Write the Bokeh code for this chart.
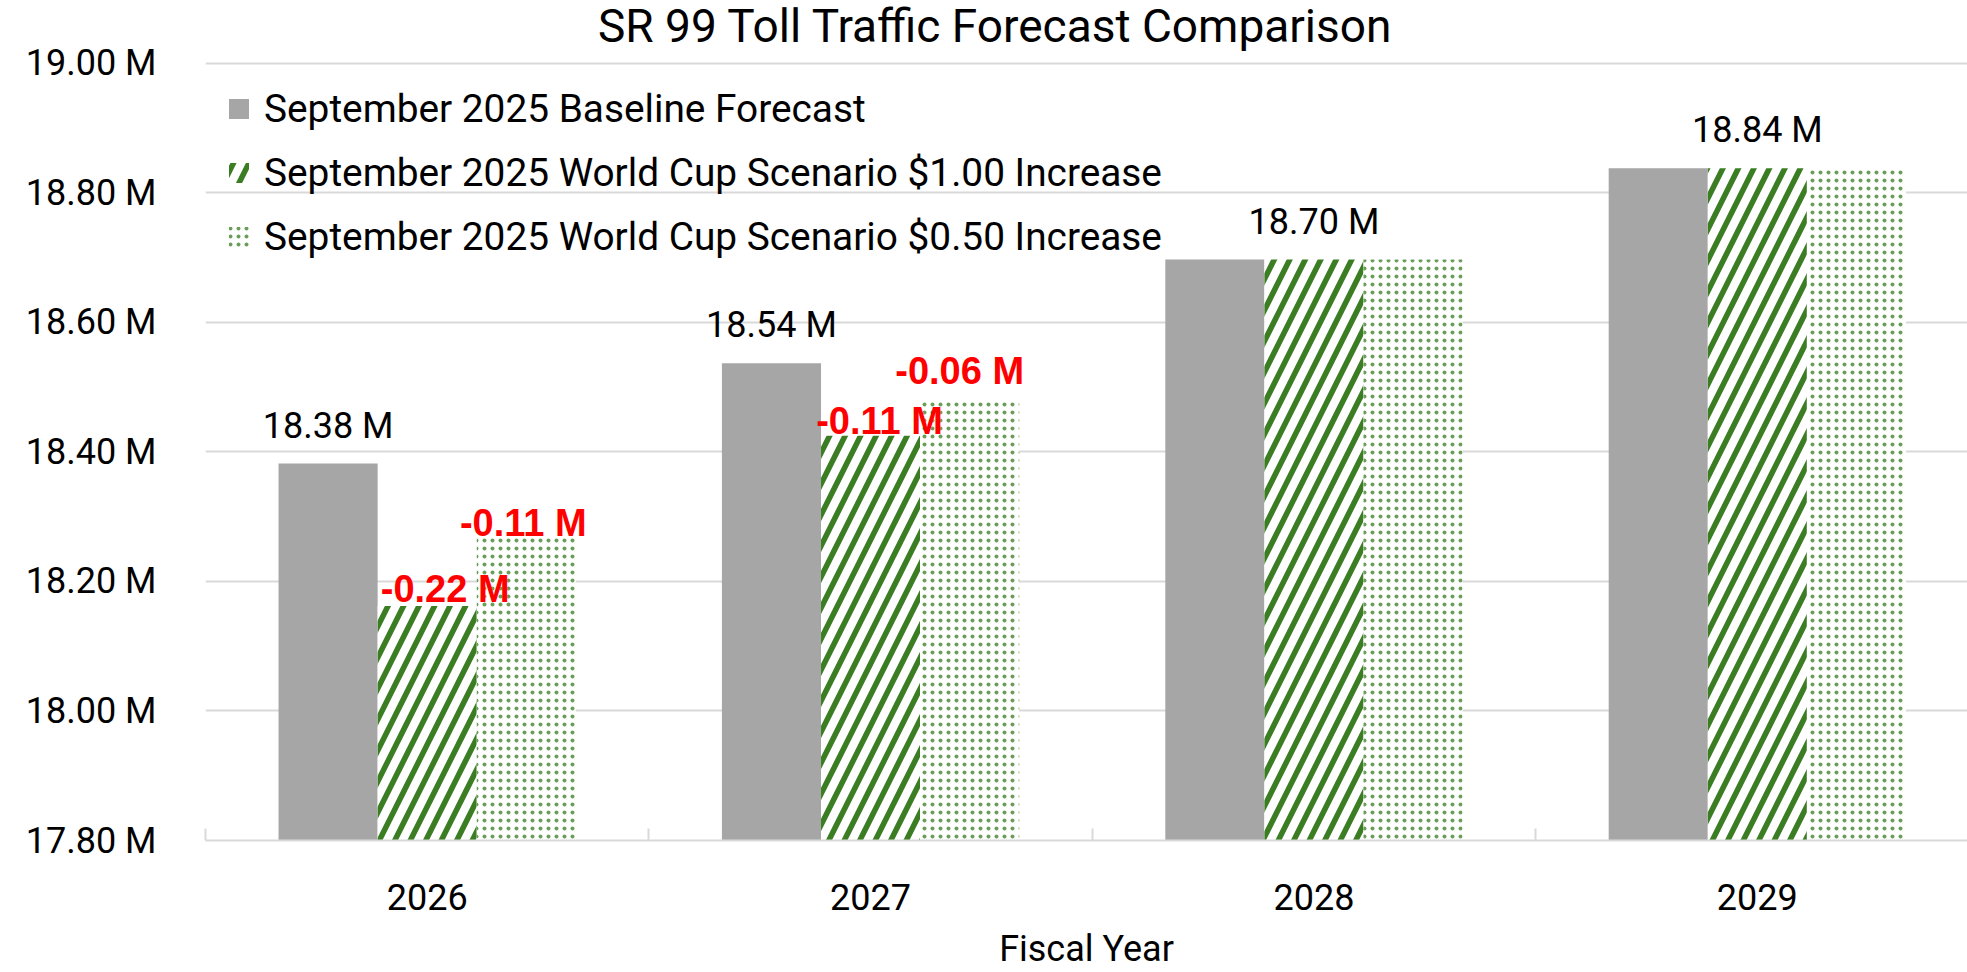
from bokeh.plotting import figure
from bokeh.models import (Range1d, FixedTicker, PrintfTickFormatter, Label, Legend,
                          LegendItem, ColumnDataSource)
from bokeh.core.properties import value
from bokeh.embed import file_html
from bokeh.resources import INLINE

# ---------------- data ----------------
years = ["2026", "2027", "2028", "2029"]
baseline = [18.382, 18.537, 18.697, 18.838]
worldcup_100 = [18.162, 18.425, 18.697, 18.838]
worldcup_050 = [18.268, 18.480, 18.697, 18.838]
series_names = [
    "September 2025 Baseline Forecast",
    "September 2025 World Cup Scenario $1.00 Increase",
    "September 2025 World Cup Scenario $0.50 Increase",
]
y_ticks = [17.8, 18.0, 18.2, 18.4, 18.6, 18.8, 19.0]
chart_title = "SR 99 Toll Traffic Forecast Comparison"
x_title = "Fiscal Year"

# ---------------- style ----------------
GRAY = "#A6A6A6"
GREEN = "#3A7D22"
GRID = "#D9D9D9"
FONT = "Roboto"
FS = "36px"
BAR_W = 0.2235
OFFSETS = [-BAR_W, 0.0, BAR_W]
TXT_FIX = -12  # baseline correction (px)
DIFF_NUDGE = {(0, 1): (18, -5), (0, 2): (-3, -2), (1, 1): (9, -3), (1, 2): (-10, -17)}

W, H = 1967, 972
p = figure(width=W, height=H, output_backend="svg", toolbar_location=None,
           x_range=Range1d(0, 3.974), y_range=Range1d(17.8, 19.097),
           min_border_left=205, min_border_right=0, min_border_top=0,
           min_border_bottom=132)
p.outline_line_color = None

centers = [i + 0.5 for i in range(len(years))]

renderers = []
series = [baseline, worldcup_100, worldcup_050]
for k, vals in enumerate(series):
    src = ColumnDataSource(dict(x=[c + OFFSETS[k] for c in centers], top=vals))
    if k == 0:
        r = p.vbar(x="x", top="top", bottom=17.8, width=BAR_W, source=src,
                   fill_color=GRAY, line_color=None)
    elif k == 1:
        r = p.vbar(x="x", top="top", bottom=17.8, width=BAR_W, source=src,
                   fill_color="white", line_color=None, hatch_pattern="/",
                   hatch_color=GREEN, hatch_scale=31, hatch_weight=5.5)
    else:
        r = p.vbar(x="x", top="top", bottom=17.8, width=BAR_W, source=src,
                   fill_color="white", line_color=None, hatch_pattern=".",
                   hatch_color=GREEN, hatch_alpha=0.75, hatch_scale=8, hatch_weight=1)
    renderers.append(r)

# baseline value labels
bx, by, bt = [], [], []
for i, c in enumerate(centers):
    same = worldcup_100[i] == baseline[i] and worldcup_050[i] == baseline[i]
    bx.append(c if same else c + OFFSETS[0])
    by.append(baseline[i])
    bt.append(f"{baseline[i]:.2f} M")
p.text(x=bx, y=by, text=bt, text_font=value(FONT), text_font_size=FS,
       text_color="black", text_align="center", text_baseline="alphabetic",
       y_offset=-26 + TXT_FIX)

# difference labels
for k in (1, 2):
    for i, c in enumerate(centers):
        diff = series[k][i] - baseline[i]
        if round(diff, 2) == 0:
            continue
        dx, dy = DIFF_NUDGE.get((i, k), (0, 0))
        p.text(x=[c + OFFSETS[k]], y=[series[k][i]], text=[f"{diff:.2f} M"],
               text_font=value("Liberation Sans"), text_font_style="bold",
               text_font_size="38px", text_color="#FF0000", text_align="center",
               text_baseline="alphabetic", x_offset=dx, y_offset=dy + TXT_FIX)

# title
p.add_layout(Label(x=1.782, y=19.058, text=chart_title, text_font=FONT,
                   text_font_size="46px", text_color="black",
                   text_align="center", text_baseline="alphabetic"))

# axes
p.xgrid.visible = False
p.ygrid.ticker = FixedTicker(ticks=y_ticks)
p.ygrid.grid_line_color = GRID
p.ygrid.grid_line_width = 2

ya = p.yaxis[0]
ya.ticker = FixedTicker(ticks=y_ticks)
ya.formatter = PrintfTickFormatter(format="%.2f M")
ya.axis_line_color = None
ya.major_tick_line_color = None
ya.minor_tick_line_color = None
ya.major_tick_in = 0
ya.major_tick_out = 0
ya.major_label_standoff = 49
ya.major_label_text_font = FONT
ya.major_label_text_font_size = FS
ya.major_label_text_color = "black"

xa = p.xaxis[0]
xa.ticker = FixedTicker(ticks=centers, minor_ticks=list(range(len(years) + 1)))
xa.major_label_overrides = {c: y for c, y in zip(centers, years)}
xa.axis_line_color = GRID
xa.axis_line_width = 2
xa.major_tick_line_color = None
xa.major_tick_in = 0
xa.major_tick_out = 0
xa.minor_tick_line_color = GRID
xa.minor_tick_line_width = 2
xa.minor_tick_in = 12
xa.minor_tick_out = 0
xa.major_label_standoff = 43
xa.major_label_text_font = FONT
xa.major_label_text_font_size = FS
xa.major_label_text_color = "black"
xa.axis_label = x_title
xa.axis_label_text_font = FONT
xa.axis_label_text_font_size = FS
xa.axis_label_text_font_style = "normal"
xa.axis_label_text_color = "black"
xa.axis_label_standoff = 15

legend = Legend(items=[LegendItem(label=n, renderers=[r]) for n, r in zip(series_names, renderers)],
                location=(21, 581), orientation="vertical",
                background_fill_alpha=0, border_line_alpha=0,
                padding=0, margin=0, spacing=19, glyph_width=25, glyph_height=25,
                label_height=44, label_standoff=13,
                label_text_font=FONT, label_text_font_size="38.8px", label_text_color="black")
p.add_layout(legend)

open("out.html", "w").write(file_html(p, INLINE))
